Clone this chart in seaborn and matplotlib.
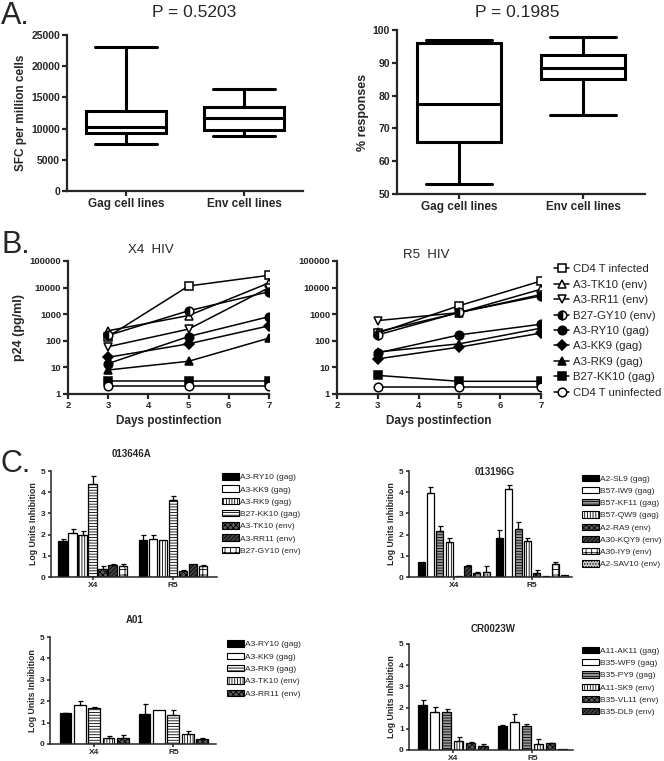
import numpy as np
import pandas as pd
import matplotlib
matplotlib.use("Agg")
import matplotlib.pyplot as plt
from matplotlib.patches import Patch
from matplotlib.container import BarContainer
from matplotlib.ticker import NullLocator
import seaborn as sns

# ---------------- data ----------------
# Panel A: five-number summaries (min, q1, median, q3, max)
a_groups = ["Gag cell lines", "Env cell lines"]
sfc_gag = [7500, 9300, 10300, 12900, 23000]
sfc_env = [8800, 9700, 11700, 13500, 16300]
resp_gag = [53, 66, 77.5, 96, 97]
resp_env = [74, 85, 88.5, 92.5, 98]
a_titles = ["P = 0.5203", "P = 0.1985"]

# Panel B: p24 (pg/ml) at days postinfection
days = [3, 5, 7]
b_series = ["CD4 T infected", "A3-TK10 (env)", "A3-RR11 (env)", "B27-GY10 (env)",
            "A3-RY10 (gag)", "A3-KK9 (gag)", "A3-RK9 (gag)", "B27-KK10 (gag)",
            "CD4 T uninfected"]
x4_cd4_inf = [145, 11500, 29000]
x4_tk10 = [240, 890, 15000]
x4_rr11 = [60, 275, 10000]
x4_gy10 = [160, 1350, 7000]
x4_ry10 = [14, 145, 810]
x4_kk9 = [24, 77, 365]
x4_rk9 = [8, 17, 126]
x4_kk10 = [3, 3, 3]
x4_uninf = [2, 2, 2]
r5_cd4_inf = [195, 2100, 17700]
r5_tk10 = [220, 1150, 8700]
r5_rr11 = [575, 1150, 5500]
r5_gy10 = [167, 1180, 4900]
r5_ry10 = [35, 167, 420]
r5_kk9 = [21, 58, 195]
r5_rk9 = [38, 77, 300]
r5_kk10 = [5, 3, 3]
r5_uninf = [1.8, 1.8, 1.8]

# Panel C: log units inhibition (X4, R5) with upper error
c1_title = "013646A"
c1_names = ["A3-RY10 (gag)", "A3-KK9 (gag)", "A3-RK9 (gag)", "B27-KK10 (gag)",
            "A3-TK10 (env)", "A3-RR11 (env)", "B27-GY10 (env)"]
c1_x4 = [1.68, 2.09, 1.97, 4.40, 0.39, 0.58, 0.53]
c1_x4_err = [0.10, 0.19, 0.20, 0.38, 0.11, 0.03, 0.10]
c1_r5 = [1.73, 1.79, 1.75, 3.65, 0.28, 0.60, 0.50]
c1_r5_err = [0.27, 0.18, 0.0, 0.17, 0.04, 0.0, 0.07]

c2_title = "013196G"
c2_names = ["A2-SL9 (gag)", "B57-IW9 (gag)", "B57-KF11 (gag)", "B57-QW9 (gag)",
            "A2-RA9 (env)", "A30-KQY9 (env)", "A30-IY9 (env)", "A2-SAV10 (env)"]
c2_x4 = [0.71, 3.96, 2.17, 1.67, 0.07, 0.50, 0.20, 0.25]
c2_x4_err = [0.0, 0.29, 0.23, 0.17, 0.0, 0.06, 0.03, 0.25]
c2_r5 = [1.84, 4.13, 2.25, 1.71, 0.18, 0.05, 0.60, 0.10]
c2_r5_err = [0.36, 0.22, 0.33, 0.12, 0.15, 0.0, 0.10, 0.0]

c3_title = "A01"
c3_names = ["A3-RY10 (gag)", "A3-KK9 (gag)", "A3-RK9 (gag)", "A3-TK10 (env)", "A3-RR11 (env)"]
c3_x4 = [1.43, 1.82, 1.68, 0.30, 0.30]
c3_x4_err = [0.04, 0.21, 0.04, 0.09, 0.13]
c3_r5 = [1.38, 1.58, 1.35, 0.45, 0.22]
c3_r5_err = [0.47, 0.0, 0.25, 0.14, 0.06]

c4_title = "CR0023W"
c4_names = ["A11-AK11 (gag)", "B35-WF9 (gag)", "B35-PY9 (gag)", "A11-SK9 (env)",
            "B35-VL11 (env)", "B35-DL9 (env)"]
c4_x4 = [2.14, 1.78, 1.81, 0.41, 0.35, 0.19]
c4_x4_err = [0.23, 0.26, 0.12, 0.22, 0.04, 0.09]
c4_r5 = [1.12, 1.30, 1.12, 0.27, 0.31, 0.03]
c4_r5_err = [0.06, 0.40, 0.09, 0.23, 0.04, 0.0]

viruses = ["X4", "R5"]

# ---------------- style ----------------
sns.set_style("ticks")
plt.rcParams["font.family"] = ["Liberation Sans", "DejaVu Sans"]
plt.rcParams["hatch.linewidth"] = 0.6

W, H = 664, 761
fig = plt.figure(figsize=(W / 100, H / 100), dpi=100)


def axes_px(l, t, r, b):
    return fig.add_axes([l / W, 1 - b / H, (r - l) / W, (b - t) / H])


def style_axes(ax, lw, ticklen, labelsize):
    for s in ["top", "right"]:
        ax.spines[s].set_visible(False)
    for s in ["left", "bottom"]:
        ax.spines[s].set_linewidth(lw)
    ax.tick_params(direction="out", length=ticklen, width=lw, labelsize=labelsize, pad=1.5)
    for lab in ax.get_xticklabels() + ax.get_yticklabels():
        lab.set_fontweight("bold")


# ---------------- Panel A ----------------
def box_panel(ax, gag, env, ylim, yticks):
    df = pd.DataFrame({"group": [a_groups[0]] * len(gag) + [a_groups[1]] * len(env),
                       "value": gag + env})
    sns.boxplot(data=df, x="group", y="value", order=a_groups, whis=(0, 100), width=0.68,
                color="white", linecolor="black", linewidth=2.2, ax=ax, capwidths=0.53)
    ax.set_xlim(-0.5, 1.5)
    ax.set_ylim(*ylim)
    ax.set_yticks(yticks)
    ax.set_xlabel("")


axA1 = axes_px(67, 35, 303, 191)
box_panel(axA1, sfc_gag, sfc_env, (0, 25000), range(0, 25001, 5000))
axA1.set_ylabel("SFC per million cells", fontsize=8.5, fontweight="bold", labelpad=3)
style_axes(axA1, 1.6, 3.5, 7.5)
axA1.tick_params(axis="x", labelsize=8.5)

axA2 = axes_px(397, 30, 645, 194)
box_panel(axA2, resp_gag, resp_env, (50, 100), range(50, 101, 10))
axA2.set_ylabel("% responses", fontsize=9, fontweight="bold", labelpad=3)
style_axes(axA2, 1.6, 3.5, 7.5)
axA2.tick_params(axis="x", labelsize=8.5)

fig.text(194 / W, 1 - 17 / H, a_titles[0], ha="center", va="baseline", fontsize=12.5)
fig.text(517 / W, 1 - 17 / H, a_titles[1], ha="center", va="baseline", fontsize=12.5)
fig.text(1 / W, 1 - 24 / H, "A.", ha="left", va="baseline", fontsize=22)

# ---------------- Panel B ----------------
b_styles = [("s", "white", "full"), ("^", "white", "full"), ("v", "white", "full"),
            ("o", "black", "left"), ("o", "black", "full"), ("D", "black", "full"),
            ("^", "black", "full"), ("s", "black", "full"), ("o", "white", "full")]
x4_all = [x4_cd4_inf, x4_tk10, x4_rr11, x4_gy10, x4_ry10, x4_kk9, x4_rk9, x4_kk10, x4_uninf]
r5_all = [r5_cd4_inf, r5_tk10, r5_rr11, r5_gy10, r5_ry10, r5_kk9, r5_rk9, r5_kk10, r5_uninf]


def line_panel(ax, series):
    for vals, name, (m, fc, fs) in zip(series, b_series, b_styles):
        sns.lineplot(x=days, y=vals, ax=ax, color="black", marker=m,
                     markersize=5 if m == "D" else 6.2, markerfacecolor=fc,
                     markerfacecoloralt="white", fillstyle=fs, markeredgecolor="black",
                     markeredgewidth=1.1, linewidth=1.1, estimator=None, label=name,
                     legend=False)
    ax.set_yscale("log")
    ax.set_ylim(1, 100000)
    ax.set_xlim(2, 7)
    ax.set_xticks([2, 3, 4, 5, 6, 7])
    yt = [1, 10, 100, 1000, 10000, 100000]
    ax.set_yticks(yt)
    ax.set_yticklabels([str(v) for v in yt])
    ax.yaxis.set_minor_locator(NullLocator())
    ax.set_xlabel("Days postinfection", fontsize=8.5, fontweight="bold", labelpad=4)
    if ax.get_legend() is not None:
        ax.get_legend().remove()


axB1 = axes_px(68, 261, 269, 394)
line_panel(axB1, x4_all)
axB1.set_ylabel("p24 (pg/ml)", fontsize=9, fontweight="bold", labelpad=3)
style_axes(axB1, 1.6, 3.5, 6.8)

axB2 = axes_px(337, 261, 541, 394)
line_panel(axB2, r5_all)
axB2.set_ylabel("")
style_axes(axB2, 1.6, 3.5, 6.8)

fig.legend(handles=axB2.get_lines()[:len(b_series)], labels=b_series, loc="center left",
           bbox_to_anchor=(554 / W, 1 - 331 / H), frameon=False, fontsize=8.2,
           handlelength=1.35, handletextpad=0.3, labelspacing=0.48, borderaxespad=0,
           borderpad=0)

fig.text(151 / W, 1 - 253 / H, "X4  HIV", ha="center", va="baseline", fontsize=9.5)
fig.text(426 / W, 1 - 258 / H, "R5  HIV", ha="center", va="baseline", fontsize=9.5)
fig.text(1 / W, 1 - 253 / H, "B.", ha="left", va="baseline", fontsize=22)

# ---------------- Panel C ----------------
BLACK = ("black", "")
WHITE = ("white", "")
VLINES = ("white", "||||||")
HLINES = ("white", "------")
GHLINES = ("#9a9a9a", "------")
DARKDOT = ("#5a5a5a", "xxxxxx")
DARKDIAG = ("#444444", "////////")
GRID = ("white", "+++")
LIGHTDOT = ("#c8c8c8", "......")

c1_styles = [BLACK, WHITE, VLINES, HLINES, DARKDOT, DARKDIAG, GRID]
c2_styles = [BLACK, WHITE, GHLINES, VLINES, DARKDOT, DARKDIAG, GRID, LIGHTDOT]
c3_styles = [BLACK, WHITE, HLINES, VLINES, DARKDOT]
c4_styles = [BLACK, WHITE, GHLINES, VLINES, DARKDOT, DARKDIAG]


def bar_panel(ax, names, x4, x4e, r5, r5e, styles, width, gap, xlim, leg_xy, lspacing):
    df = pd.DataFrame({"virus": [viruses[0]] * len(names) + [viruses[1]] * len(names),
                       "line": names + names, "value": x4 + r5})
    sns.barplot(data=df, x="virus", y="value", hue="line", hue_order=names, order=viruses,
                width=width, gap=gap, errorbar=None, legend=False, saturation=1, ax=ax)
    errs = {0: x4e, 1: r5e}
    bar_conts = [c for c in ax.containers if isinstance(c, BarContainer)]
    for i, cont in enumerate(bar_conts):
        fc, hatch = styles[i]
        for p in cont.patches:
            p.set_facecolor(fc)
            p.set_hatch(hatch)
            p.set_edgecolor("black")
            p.set_linewidth(0.9)
            xc = p.get_x() + p.get_width() / 2
            e = errs[int(round(xc))][i]
            if e > 0:
                ax.errorbar([xc], [p.get_height()], yerr=[[0], [e]], fmt="none",
                            ecolor="black", elinewidth=0.9, capsize=1.8, capthick=0.9)
    ax.set_xlim(*xlim)
    ax.set_ylim(0, 5)
    ax.set_yticks(range(6))
    ax.set_xlabel("")
    ax.set_ylabel("Log Units Inhibition", fontsize=6.3, fontweight="bold", labelpad=2)
    style_axes(ax, 1.1, 2.2, 6)
    handles = [Patch(facecolor=fc, hatch=h, edgecolor="black", linewidth=0.8, label=n)
               for (fc, h), n in zip(styles, names)]
    fig.legend(handles=handles, loc="center left", bbox_to_anchor=(leg_xy[0] / W, 1 - leg_xy[1] / H),
               frameon=False, fontsize=6.0, handlelength=2.05, handleheight=0.8,
               handletextpad=0.15, labelspacing=lspacing, borderaxespad=0, borderpad=0)


axC1 = axes_px(51, 471, 217, 577)
bar_panel(axC1, c1_names, c1_x4, c1_x4_err, c1_r5, c1_r5_err, c1_styles, 0.875, 0.15,
          (-0.52, 1.55), (222, 514), 0.5)
axC2 = axes_px(409, 471, 572, 577)
bar_panel(axC2, c2_names, c2_x4, c2_x4_err, c2_r5, c2_r5_err, c2_styles, 0.95, 0.25,
          (-0.57, 1.51), (582, 521.5), 0.5)
axC3 = axes_px(50, 637, 216, 744)
bar_panel(axC3, c3_names, c3_x4, c3_x4_err, c3_r5, c3_r5_err, c3_styles, 0.91, 0.19,
          (-0.56, 1.54), (227, 669), 0.52)
axC4 = axes_px(409, 644, 573, 750)
bar_panel(axC4, c4_names, c4_x4, c4_x4_err, c4_r5, c4_r5_err, c4_styles, 0.91, 0.25,
          (-0.55, 1.51), (582, 681.5), 0.5)

fig.text(132 / W, 1 - 457 / H, c1_title, ha="center", va="baseline", fontsize=7, fontweight="bold")
fig.text(495 / W, 1 - 475 / H, c2_title, ha="center", va="baseline", fontsize=7, fontweight="bold")
fig.text(135 / W, 1 - 623 / H, c3_title, ha="center", va="baseline", fontsize=7, fontweight="bold")
fig.text(493 / W, 1 - 632 / H, c4_title, ha="center", va="baseline", fontsize=7, fontweight="bold")
fig.text(1 / W, 1 - 472 / H, "C.", ha="left", va="baseline", fontsize=22)

fig.savefig("out.png", dpi=100)
